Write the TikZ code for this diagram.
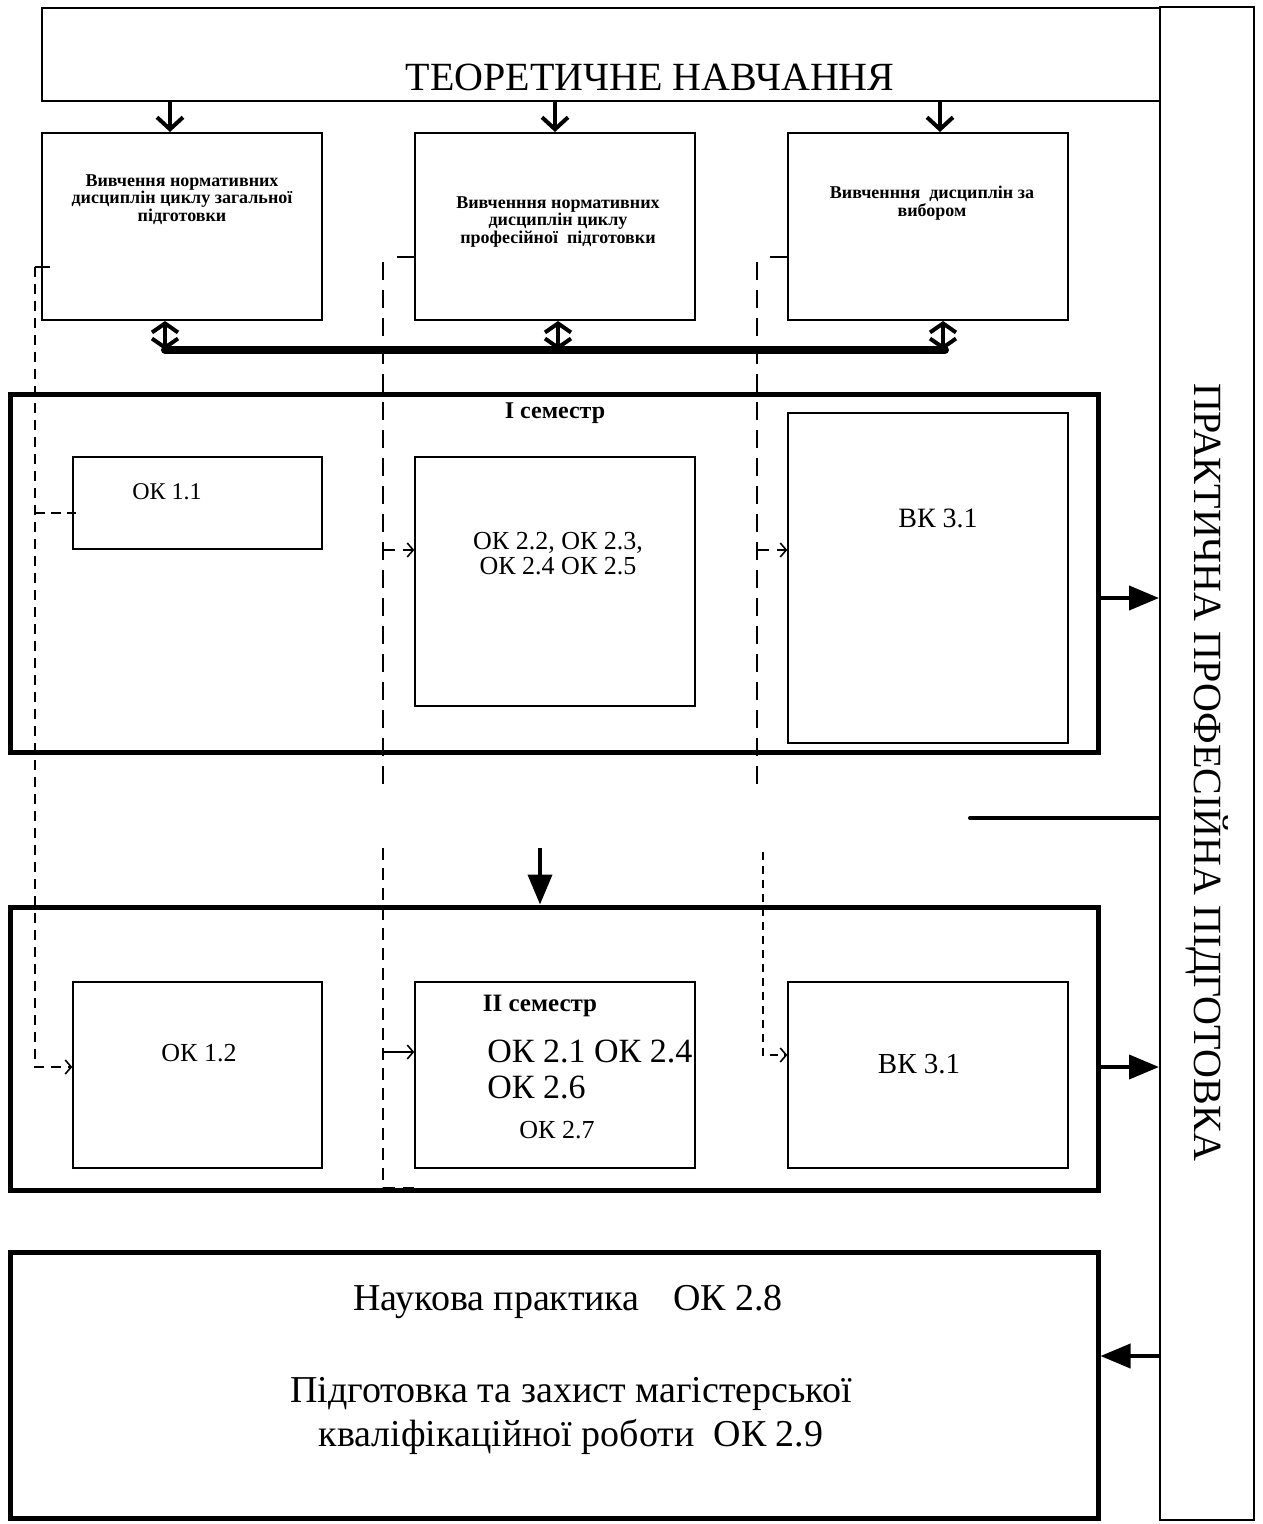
\documentclass[tikz,border=0pt]{standalone}
\usepackage{fontspec}
\setmainfont{Liberation Serif}
\usetikzlibrary{arrows.meta, positioning}

\begin{document}
\begin{tikzpicture}[
        x=0.5pt, y=-0.5pt,
        >={Straight Barb[length=3pt,width=7pt]},
        box/.style={draw, rectangle, line width=0.7pt, inner sep=0pt},
        topbox/.style={draw, rectangle, line width=1pt, inner sep=0pt},
        sembox/.style={draw, rectangle, line width=2.5pt, inner sep=0pt},
        head/.style={font=\bfseries\fontsize{9}{8.8}\selectfont, align=center, inner sep=0pt},
        openarr/.style={line width=2pt, -{Straight Barb[length=6pt,width=13pt]}},
        dblarr/.style={line width=2pt, {Straight Barb[length=4.5pt,width=13pt]}-{Straight Barb[length=4.5pt,width=13pt]}},
        fillarr/.style={line width=2pt, -{Triangle[length=15pt,width=12pt]}},
        ldash/.style={line width=0.8pt, dash pattern=on 5pt off 3.5pt},
        bdash/.style={line width=1.2pt, dash pattern=on 5pt off 3pt},
        mdash/.style={line width=1.2pt, dash pattern=on 9pt off 5pt},
        sdash/.style={line width=0.8pt, dash pattern=on 6pt off 4pt},
        xdash/.style={line width=0.8pt, dash pattern=on 4pt off 3pt}
      ]
      \useasboundingbox (0,0) rectangle (1262,1524);

      % Theory and practice
      \node[topbox, minimum width=559pt, minimum height=46.5pt] (theory) at (601,54.5) {};
      \node[font=\fontsize{20}{23}\selectfont] (theorylbl) at (650,77) {ТЕОРЕТИЧНЕ НАВЧАННЯ};
      \node[topbox, minimum width=47pt, minimum height=756.5pt] (practice) at (1207,763.5) {};
      \node[rotate=-90, font=\fontsize{20}{23}\selectfont] (practicelbl) at (1207,772) {ПРАКТИЧНА ПРОФЕСІЙНА ПІДГОТОВКА};

      % Discipline cycles
      \node[topbox, minimum width=140pt, minimum height=93.5pt] (gen) at (182,226.5) {};
      \node[topbox, minimum width=140pt, minimum height=93.5pt] (prof) at (555,226.5) {};
      \node[topbox, minimum width=140pt, minimum height=93.5pt] (elect) at (928,226.5) {};
      \node[head, below=21pt of gen.north] (genlbl) {Вивчення нормативних\\дисциплін циклу загальної\\підготовки};
      \node[head, below=32pt of prof.north, xshift=1.5pt] (proflbl) {Вивченння нормативних\\дисциплін циклу\\професійної\ \ підготовки};
      \node[head, below=27pt of elect.north, xshift=2pt] (electlbl) {Вивченння\ \ дисциплін за\\вибором};

      \draw[openarr] ([xshift=-6pt]gen.north |- theory.south) -- ([xshift=-6pt]gen.north);
      \draw[openarr] (prof.north |- theory.south) -- (prof.north);
      \draw[openarr] ([xshift=6pt]elect.north |- theory.south) -- ([xshift=6pt]elect.north);

      \coordinate (busL) at (165,350);
      \coordinate (busR) at (945,350);
      \draw[line width=4pt, line cap=round] (busL) -- (busR);
      \draw[dblarr] ([xshift=-8.5pt]gen.south) -- ([xshift=-8.5pt]gen.south |- busL);
      \draw[dblarr] ([xshift=1.5pt]prof.south) -- ([xshift=1.5pt]prof.south |- busL);
      \draw[dblarr] ([xshift=7.5pt]elect.south) -- ([xshift=7.5pt]elect.south |- busL);

      % I semester
      \node[sembox, minimum width=544pt, minimum height=179pt] (sem1) at (554,573) {};
      \node[font=\bfseries\fontsize{12}{14}\selectfont] (sem1lbl) at (555,413) {I семестр};
      \node[box, minimum width=124.5pt, minimum height=46pt] (ok11) at (197.5,503) {};
      \node[box, minimum width=140pt, minimum height=124.5pt] (ok22) at (555,581.5) {};
      \node[box, minimum width=140pt, minimum height=165pt] (vk31a) at (928,578) {};
      \node[font=\fontsize{12}{14}\selectfont] (ok11lbl) at (167,492) {ОК 1.1};
      \node[font=\fontsize{13}{12.5}\selectfont, align=center] (ok22lbl) at (558,554) {ОК 2.2, ОК 2.3,\\ ОК 2.4 ОК 2.5};
      \node[font=\fontsize{14}{16}\selectfont] (vk31albl) at (938,518) {ВК 3.1};

      % II semester
      \node[sembox, minimum width=544pt, minimum height=141.5pt] (sem2) at (554,1048.5) {};
      \node[box, minimum width=124.5pt, minimum height=93pt] (ok12) at (197.5,1075) {};
      \node[box, minimum width=140pt, minimum height=93pt] (ok2x) at (555,1075) {};
      \node[box, minimum width=140pt, minimum height=93pt] (vk31b) at (928,1075) {};
      \node[font=\bfseries\fontsize{12.5}{14}\selectfont] (sem2lbl) at (540,1006) {II семестр};
      \node[font=\fontsize{17}{18}\selectfont, align=left, anchor=north west, inner sep=0pt] (ok2xlbl) at (487,1040)
        {ОК 2.1 ОК 2.4\\ОК 2.6\\[2pt]\hspace*{16pt}\fontsize{13}{15}\selectfont ОК 2.7};
      \node[font=\fontsize{13}{15}\selectfont] (ok12lbl) at (199,1053) {ОК 1.2};
      \node[font=\fontsize{14.5}{16}\selectfont] (vk31blbl) at (919,1064) {ВК 3.1};

      % Final stage
      \node[sembox, minimum width=544pt, minimum height=133pt] (final) at (554,1385) {};
      \node[font=\fontsize{19}{22}\selectfont] (sciprac) at (568,1302) {Наукова практика\hspace{12pt} ОК 2.8};
      \node[font=\fontsize{19}{22}\selectfont, align=center] (thesis) at (571,1416) {Підготовка та захист магістерської\\кваліфікаційної роботи\ \ ОК 2.9};

      % Links to practical training
      \draw[fillarr] ([yshift=-12.5pt]sem1.east) -- ([yshift=-12.5pt]sem1.east -| practice.west);
      \draw[fillarr] ([yshift=-9.25pt]sem2.east) -- ([yshift=-9.25pt]sem2.east -| practice.west);
      \draw[fillarr] ([yshift=14.5pt]final.east -| practice.west) -- ([yshift=14.5pt]final.east);
      \coordinate (stub) at (970,818);
      \draw[line width=2pt, line cap=round] (stub) -- (stub -| practice.west);
      \coordinate (down) at (540,848);
      \draw[fillarr] (down) -- (down |- sem2.north);

      % Dashed links between semesters
      \coordinate (t1) at (35,267);
      \draw[line width=0.8pt] (t1) -- ++(15,0);
      \draw[ldash, ->] (t1) |- ([yshift=4pt]ok12.west);
      \draw[bdash] ([yshift=-5pt]ok11.west -| t1) -- ([yshift=-5pt, xshift=2pt]ok11.west);

      \coordinate (t2) at (397,257);
      \coordinate (d2) at (383,262);
      \coordinate (d2e) at (383,785);
      \draw[line width=0.8pt] (t2) -- (t2 -| prof.west);
      \draw[mdash] (d2) -- (d2e);
      \draw[sdash, ->] ([yshift=15.75pt]ok22.west -| d2) -- ([yshift=15.75pt]ok22.west);

      \coordinate (t3) at (770,257);
      \coordinate (d3) at (757,262);
      \coordinate (d3e) at (757,785);
      \draw[line width=0.8pt] (t3) -- (t3 -| elect.west);
      \draw[mdash] (d3) -- (d3e);
      \draw[sdash, ->] ([yshift=14pt]vk31a.west -| d3) -- ([yshift=14pt]vk31a.west);

      \coordinate (l2) at (383,848);
      \coordinate (l2e) at (383,1188);
      \draw[sdash] (l2) -- (l2e) -- (l2e -| ok2x.west);
      \draw[line width=0.8pt, ->] ([yshift=11.5pt]ok2x.west -| l2) -- ([yshift=11.5pt]ok2x.west);

      \coordinate (l3) at (763,852);
      \draw[xdash, ->] (l3) |- ([yshift=10pt]vk31b.west);

    \end{tikzpicture}
\end{document}
